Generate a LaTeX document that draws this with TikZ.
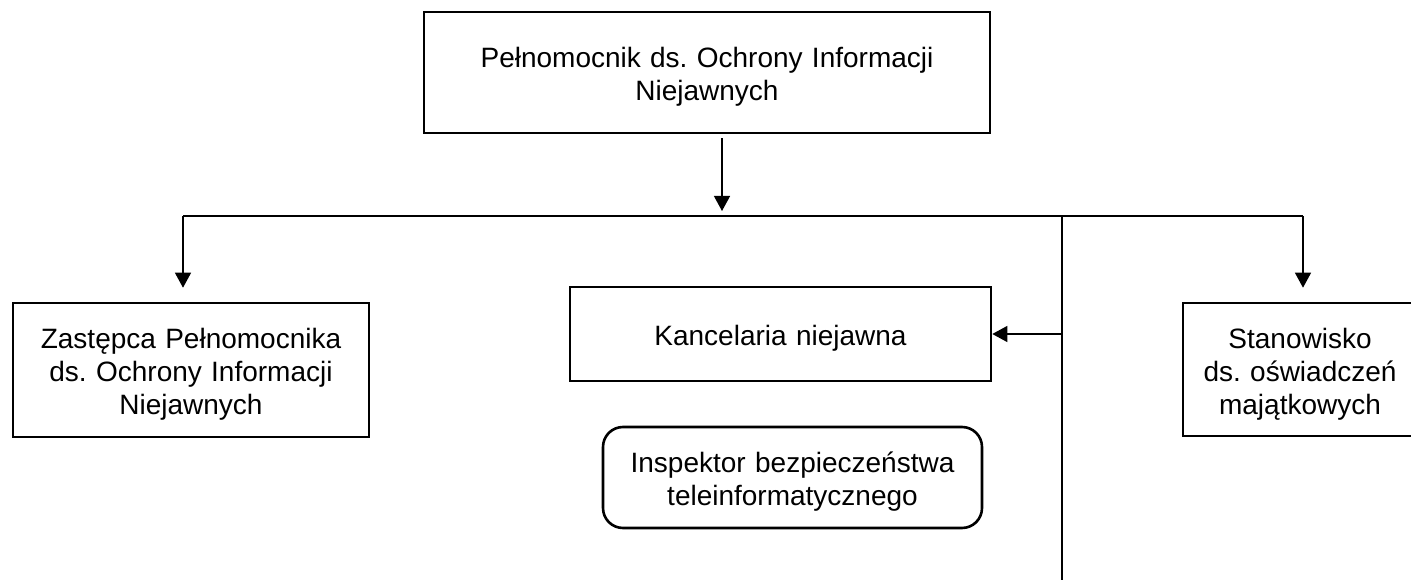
\documentclass[tikz,border=0pt]{standalone}
\usepackage{fontspec}
\setmainfont{Liberation Sans}
\usepackage{tikz}
\usetikzlibrary{arrows.meta, positioning, calc}

\begin{document}
\begin{tikzpicture}[
    x=1pt, y=-1pt,
    box/.style={draw, line width=2.6pt, inner sep=0pt, align=center,
                font=\fontsize{28}{33}\selectfont\frenchspacing,
                execute at begin node={\rule{0pt}{29pt}}},
    rbox/.style={box, rounded corners=20pt},
    line/.style={draw, line width=1.3pt},
    arr/.style={line, -{Triangle[width=16pt, length=15pt]}}
]
    \useasboundingbox (0,0) rectangle (1411,585);

    % --- boxes ---
    \node[box, text width=566pt, minimum height=121pt] (pelnomocnik) at (707,72.5)
        {Pełnomocnik ds. Ochrony Informacji\\Niejawnych};
    \node[box, text width=356pt, minimum height=134pt] (zastepca) at (191,370)
        {Zastępca Pełnomocnika\\ds. Ochrony Informacji\\Niejawnych};
    \node[box, text width=421pt, minimum height=94pt] (kancelaria) at (780.5,334)
        {Kancelaria niejawna};
    \node[rbox, text width=379pt, minimum height=101pt] (inspektor) at (792.5,477.5)
        {Inspektor bezpieczeństwa\\teleinformatycznego};
    \node[box, text width=234pt, minimum height=133pt] (stanowisko) at (1300,369.5)
        {Stanowisko\\ds. oświadczeń\\majątkowych};

    % --- bus ---
    \coordinate (bus) at (722,216);
    \coordinate (busL) at (183,216);
    \coordinate (busR) at (1303,216);
    \coordinate (pion) at (1062,216);
    \coordinate (pionEnd) at (1062,580);

    % --- connectors ---
    \draw[arr, shorten <=4pt, shorten >=5pt] (pelnomocnik.south -| bus) -- (bus);
    \draw[line] (busL) -- (busR);
    \draw[arr, shorten >=14pt] (busL) -- (zastepca.north -| busL);
    \draw[arr, shorten >=14pt] (busR) -- (stanowisko.north -| busR);
    \draw[line] (pion) -- (pionEnd);
    \draw[arr] (kancelaria.east -| pion) -- (kancelaria.east);
\end{tikzpicture}
\end{document}
